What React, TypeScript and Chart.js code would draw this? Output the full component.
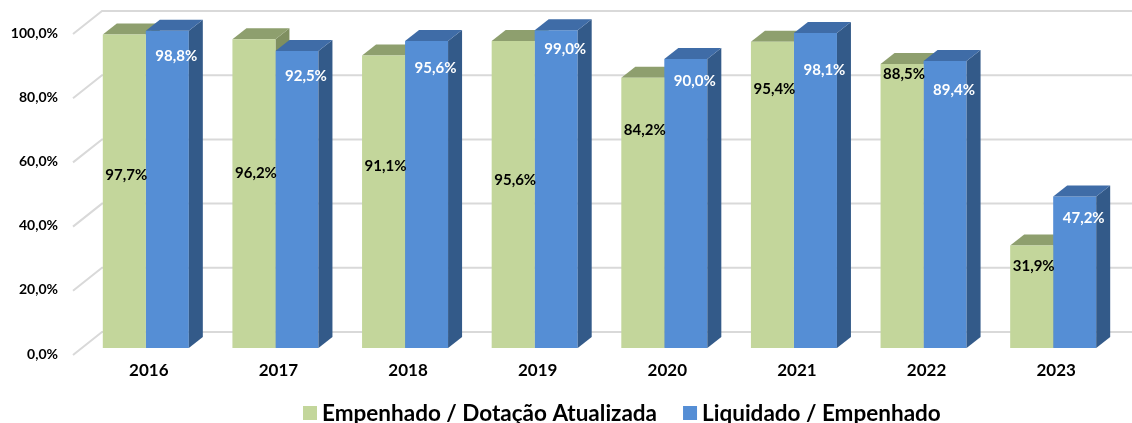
import React, { useEffect, useRef } from 'react';
import { Chart, registerables } from 'chart.js';

Chart.register(...registerables);

// ---- data ----
const categories = ['2016', '2017', '2018', '2019', '2020', '2021', '2022', '2023'];
const empenhado = [97.7, 96.2, 91.1, 95.6, 84.2, 95.4, 88.5, 31.9];
const liquidado = [98.8, 92.5, 95.6, 99.0, 90.0, 98.1, 89.4, 47.2];
const yTickValues = [0, 20, 40, 60, 80, 100];
const seriesNames = ['Empenhado / Dotação Atualizada', 'Liquidado / Empenhado'];

// ---- label anchors (value units, as placed in the original) ----
const greenLabelAt = [53.7, 54.6, 56.5, 52.4, 68.0, 80.5, 85.2, 25.6];
const blueLabelAt = [90.9, 84.7, 87.3, 93.2, 83.1, 86.7, 80.3, 40.5];

// ---- styles ----
const FONT = 'Lato, "Open Sans", "Noto Sans", sans-serif';
const GREEN = { front: '#C3D69B', top: '#8E9F6E', side: '#7F8F60' };
const BLUE = { front: '#558ED5', top: '#3F6CA7', side: '#335A89' };
const DEPTH = { dx: 14, dy: -11 };
const WALL_FRONT = { dx: -8, dy: 7 };
const WALL_BACK = { dx: 21, dy: -16 };

const fmt = (v: number) => v.toFixed(1).replace('.', ',') + '%';

function drawFaces(ctx: CanvasRenderingContext2D, meta: any, colors: { top: string; side: string }) {
  for (const el of meta.data) {
    const { x, y, base, width } = el as any;
    const L = x - width / 2;
    const R = x + width / 2;
    // side
    ctx.fillStyle = colors.side;
    ctx.beginPath();
    ctx.moveTo(R, y);
    ctx.lineTo(R + DEPTH.dx, y + DEPTH.dy);
    ctx.lineTo(R + DEPTH.dx, base + DEPTH.dy);
    ctx.lineTo(R, base);
    ctx.closePath();
    ctx.fill();
    // top
    ctx.fillStyle = colors.top;
    ctx.beginPath();
    ctx.moveTo(L, y);
    ctx.lineTo(R, y);
    ctx.lineTo(R + DEPTH.dx, y + DEPTH.dy);
    ctx.lineTo(L + DEPTH.dx, y + DEPTH.dy);
    ctx.closePath();
    ctx.fill();
  }
}

const threeDPlugin = {
  id: 'threeD',
  beforeDatasetsDraw(chart: any) {
    const { ctx, chartArea, scales } = chart;
    const yS = scales.y;
    ctx.save();
    ctx.strokeStyle = '#D9D9D9';
    ctx.lineWidth = 2;
    for (const v of yTickValues) {
      const py = yS.getPixelForValue(v);
      ctx.beginPath();
      ctx.moveTo(chartArea.left + WALL_FRONT.dx, py + WALL_FRONT.dy);
      ctx.lineTo(chartArea.left + WALL_BACK.dx, py + WALL_BACK.dy);
      ctx.lineTo(chart.width, py + WALL_BACK.dy);
      ctx.stroke();
    }
    drawFaces(ctx, chart.getDatasetMeta(0), GREEN);
    ctx.restore();
  },
  afterDatasetsDraw(chart: any) {
    const { ctx, scales } = chart;
    const yS = scales.y;
    ctx.save();
    drawFaces(ctx, chart.getDatasetMeta(1), BLUE);

    ctx.font = `bold 15px ${FONT}`;
    ctx.textAlign = 'center';
    ctx.textBaseline = 'middle';
    const m0 = chart.getDatasetMeta(0);
    const m1 = chart.getDatasetMeta(1);
    m0.data.forEach((el: any, i: number) => {
      ctx.fillStyle = '#000000';
      ctx.fillText(fmt(empenhado[i]), el.x + 2, yS.getPixelForValue(greenLabelAt[i]));
    });
    m1.data.forEach((el: any, i: number) => {
      ctx.fillStyle = '#FFFFFF';
      ctx.fillText(fmt(liquidado[i]), el.x + 9, yS.getPixelForValue(blueLabelAt[i]));
    });
    ctx.restore();
  },
  afterDraw(chart: any) {
    const { ctx } = chart;
    ctx.save();
    ctx.font = `bold 22.5px ${FONT}`;
    ctx.textAlign = 'left';
    ctx.textBaseline = 'alphabetic';
    const colors = [GREEN.front, BLUE.front];
    const baseline = 421;
    const box = 14;
    let x = 303;
    chart.data.datasets.forEach((ds: any, i: number) => {
      ctx.fillStyle = colors[i];
      ctx.fillRect(x, baseline - 15, box, box);
      x += box + 5;
      ctx.fillStyle = '#000000';
      ctx.fillText(ds.label, x, baseline);
      x += ctx.measureText(ds.label).width + 26;
    });
    ctx.restore();
  },
};

export default function App() {
  const ref = useRef<HTMLCanvasElement | null>(null);

  useEffect(() => {
    if (!ref.current) return;
    const chart = new Chart(ref.current, {
      type: 'bar',
      data: {
        labels: categories,
        datasets: [
          {
            label: seriesNames[0],
            data: empenhado,
            backgroundColor: GREEN.front,
            categoryPercentage: 0.6636,
            barPercentage: 1.0,
          },
          {
            label: seriesNames[1],
            data: liquidado,
            backgroundColor: BLUE.front,
            categoryPercentage: 0.6636,
            barPercentage: 1.0,
          },
        ],
      },
      options: {
        responsive: false,
        animation: false,
        devicePixelRatio: 1,
        events: [],
        layout: { padding: { left: 0, right: 14, top: 27, bottom: 45 } },
        plugins: {
          legend: { display: false },
          tooltip: { enabled: false },
        },
        scales: {
          x: {
            grid: { display: false, drawTicks: false },
            border: { display: false },
            ticks: {
              color: '#000000',
              font: { family: FONT, size: 17, weight: 'bold' },
              padding: 12,
              labelOffset: 3,
            },
            afterFit: (s: any) => {
              s.height = 30;
              s.paddingLeft = 0;
              s.paddingRight = 0;
            },
          },
          y: {
            min: 0,
            max: 100,
            grid: { display: false, drawTicks: false },
            border: { display: false },
            ticks: {
              stepSize: 20,
              color: '#000000',
              font: { family: FONT, size: 14, weight: 'bold' },
              padding: 23,
              labelOffset: 6,
              callback: (v: any) => fmt(Number(v)),
            },
            afterFit: (s: any) => {
              s.width = 81;
              s.paddingTop = 0;
              s.paddingBottom = 0;
            },
          },
        },
      },
      plugins: [threeDPlugin],
    });
    return () => chart.destroy();
  }, []);

  return (
    <div style={{ position: 'absolute', left: 0, top: 0, width: 1132, height: 423, background: '#FFFFFF' }}>
      <canvas ref={ref} width={1132} height={423} style={{ display: 'block' }} />
    </div>
  );
}
